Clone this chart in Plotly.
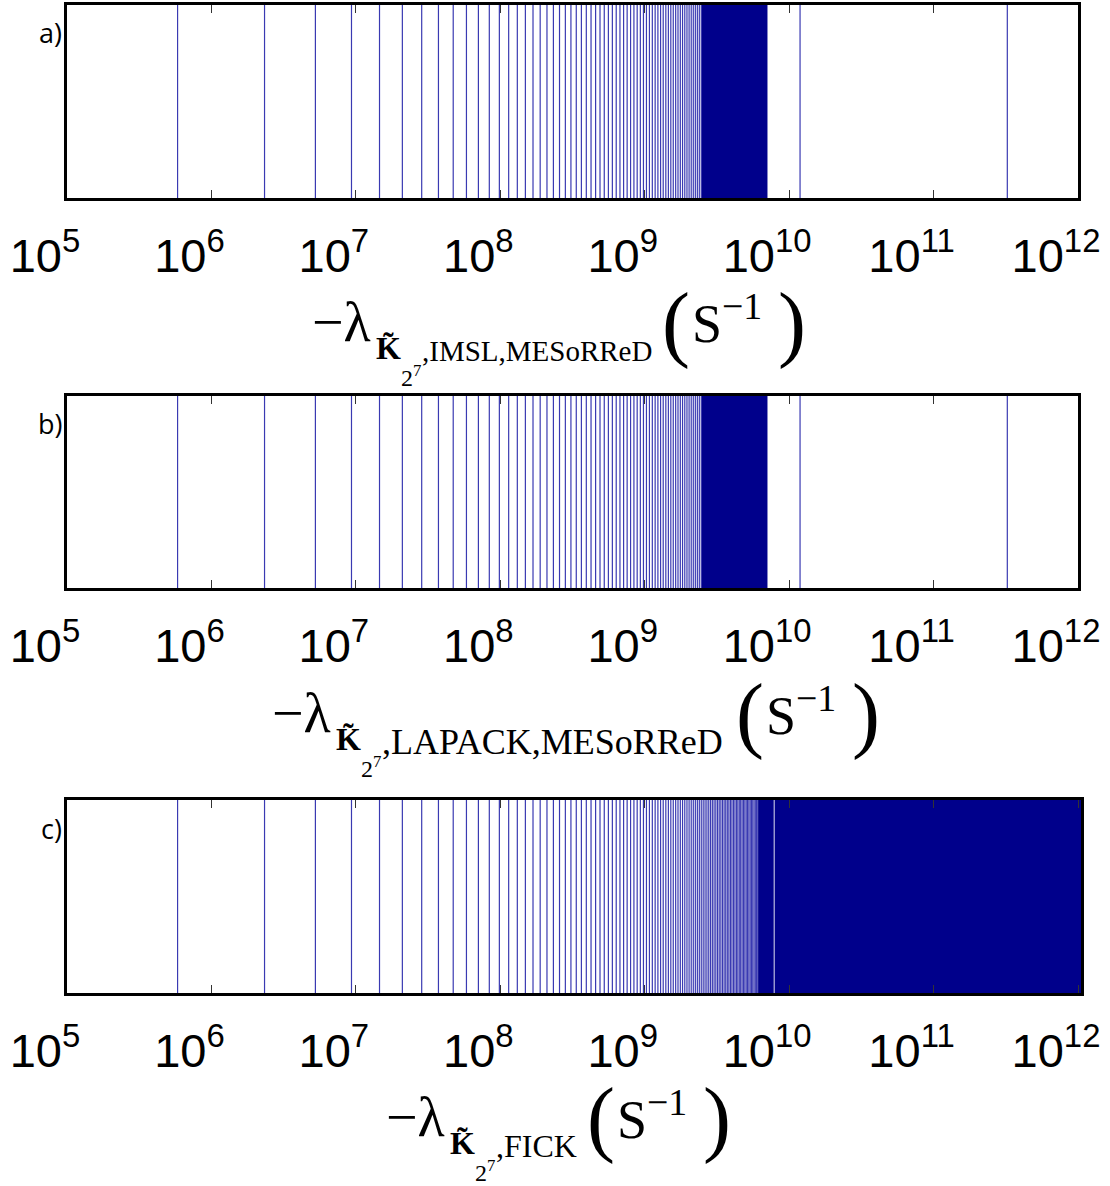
import plotly.graph_objects as go

# ---- data (eigenvalue magnitudes, s^-1) ----
eig_common = [
    5.830e5, 2.332e6, 5.247e6, 9.328e6, 1.458e7, 2.099e7, 2.857e7, 3.731e7, 4.722e7, 5.830e7,
    7.054e7, 8.395e7, 9.853e7, 1.143e8, 1.312e8, 1.492e8, 1.685e8, 1.889e8, 2.105e8, 2.332e8,
    2.571e8, 2.822e8, 3.084e8, 3.358e8, 3.644e8, 3.941e8, 4.250e8, 4.571e8, 4.903e8, 5.247e8,
    5.603e8, 5.970e8, 6.349e8, 6.739e8, 7.142e8, 7.556e8, 7.981e8, 8.419e8, 8.867e8, 9.328e8,
    9.800e8, 1.028e9, 1.078e9, 1.129e9, 1.181e9, 1.234e9, 1.288e9, 1.343e9, 1.400e9, 1.458e9,
    1.516e9, 1.576e9, 1.638e9, 1.700e9, 1.764e9, 1.828e9, 1.894e9, 1.961e9, 2.029e9, 2.099e9,
    2.169e9, 2.241e9, 2.314e9, 2.388e9, 2.463e9,
]
fick_extra = [
    2.540e9, 2.617e9, 2.696e9, 2.776e9, 2.857e9, 2.939e9, 3.022e9, 3.107e9, 3.193e9, 3.279e9,
    3.367e9, 3.457e9, 3.547e9, 3.639e9, 3.731e9, 3.825e9, 3.920e9, 4.016e9, 4.114e9, 4.212e9,
    4.312e9, 4.413e9, 4.515e9, 4.618e9, 4.722e9, 4.828e9, 4.935e9, 5.042e9, 5.151e9, 5.262e9,
    5.373e9, 5.485e9, 5.599e9, 5.714e9, 5.830e9, 5.947e9, 6.066e9,
]
imsl_outliers = [1.19e10, 3.24e11]
lapack_outliers = [1.19e10, 3.24e11]

eig_imsl = eig_common + imsl_outliers
eig_lapack = eig_common + lapack_outliers
eig_fick = eig_common + fick_extra

# dense clusters (too many eigenvalues to resolve): [low, high]
imsl_clusters = [[2.48e9, 7.08e9]]
lapack_clusters = [[2.48e9, 7.08e9]]
fick_clusters = [[6.10e9, 7.82e9], [7.93e9, 1.06e12]]

tick_vals = [1e5, 1e6, 1e7, 1e8, 1e9, 1e10, 1e11, 1e12]
tick_text = ["10<sup>5</sup>", "10<sup>6</sup>", "10<sup>7</sup>", "10<sup>8</sup>",
             "10<sup>9</sup>", "10<sup>10</sup>", "10<sup>11</sup>", "10<sup>12</sup>"]
panel_tags = ["a)", "b)", "c)"]
methods = [",IMSL,MESoRReD", ",LAPACK,MESoRReD", ",FICK"]

# ---- figure ----
W, H = 1110, 1186
NAVY = "#00008B"
LINE = "#3A3AB2"

fig = go.Figure()

panels = [
    dict(eig=eig_imsl, clusters=imsl_clusters, xax="x", yax="y"),
    dict(eig=eig_lapack, clusters=lapack_clusters, xax="x2", yax="y2"),
    dict(eig=eig_fick, clusters=fick_clusters, xax="x3", yax="y3"),
]

for p in panels:
    xs, ys = [], []
    for v in p["eig"]:
        xs += [v, v, None]
        ys += [0, 1, None]
    fig.add_trace(go.Scatter(x=xs, y=ys, mode="lines",
                             line=dict(color=LINE, width=1.2),
                             xaxis=p["xax"], yaxis=p["yax"],
                             showlegend=False, hoverinfo="skip"))
    for lo, hi in p["clusters"]:
        fig.add_trace(go.Scatter(x=[lo, hi, hi, lo, lo], y=[0, 0, 1, 1, 0],
                                 mode="lines", fill="toself", fillcolor=NAVY,
                                 line=dict(width=0, color=NAVY),
                                 xaxis=p["xax"], yaxis=p["yax"],
                                 showlegend=False, hoverinfo="skip"))

def px_x(px):
    return px / W

def px_y(py):
    return 1 - py / H

# panel pixel boxes: (left, right, top, bottom)
boxes = [(67, 1078, 5, 198), (67, 1078, 396, 588), (67, 1081, 800, 993)]
ranges = [[5, 12], [5, 12], [5, 12 + 3 / 144.4]]

axis_common = dict(
    type="log", showgrid=False, zeroline=False, automargin=False,
    showline=True, linecolor="black", linewidth=2.5, mirror="ticks",
    ticks="inside", ticklen=8, tickwidth=1, tickcolor="#333",
    tickvals=tick_vals, ticktext=tick_text,
    tickfont=dict(family="Liberation Sans", size=47, color="black"),
    ticklabelshift=-22, ticklabelstandoff=15,
)
yaxis_common = dict(range=[0, 1], showgrid=False, zeroline=False, automargin=False,
                    showticklabels=False, ticks="",
                    showline=True, linecolor="black", linewidth=2.5, mirror=True)

layout = dict(width=W, height=H,
              margin=dict(l=0, r=0, t=0, b=0, autoexpand=False),
              paper_bgcolor="white", plot_bgcolor="white", showlegend=False)

names = [("xaxis", "yaxis", "y", "x"), ("xaxis2", "yaxis2", "y2", "x2"), ("xaxis3", "yaxis3", "y3", "x3")]
for (xa, ya, yref, xref), (l, r, t, b), rg in zip(names, boxes, ranges):
    layout[xa] = dict(axis_common, domain=[px_x(l), px_x(r)], range=rg, anchor=yref)
    layout[ya] = dict(yaxis_common, domain=[px_y(b), px_y(t)], anchor=xref)

fig.update_layout(**layout)

# ---- axis titles (built from pieces to mimic TeX layout) ----
SERIF = "Liberation Serif"
sub_sizes = [29, 36, 32]
# em widths of the subscript method strings in Times-like metrics
em_width = [7.945, 9.556, 2.528]
lam_left = [310, 270, 384]
dys = [0, 391, 795]

def ann(text, x, y, size, family=SERIF):
    fig.add_annotation(text=text, x=px_x(x), y=px_y(y), xref="paper", yref="paper",
                       xanchor="left", yanchor="middle", showarrow=False,
                       font=dict(family=family, size=size, color="black"))

for m, lam, em, dy, sub in zip(methods, lam_left, em_width, dys, sub_sizes):
    k_left = lam + 64
    txt_left = k_left + 46
    txt_end = txt_left + em * sub
    lp = txt_end + 10
    ann("\u2212\u03bb", lam, 322 + dy, 56)
    ann("<b>K\u0303</b>", k_left, 348 + dy, 32)
    ann("2<sup>7</sup>", k_left + 25, 376 + dy, 24)
    ann(m, txt_left, 351 + dy, sub)
    ann("(", lp, 323 + dy, 84)
    ann("S<sup>\u22121</sup>", lp + 30, 320 + dy, 54)
    ann(")", lp + 116, 323 + dy, 84)

# panel tags
for tag, (l, r, t, b) in zip(panel_tags, boxes):
    fig.add_annotation(text=tag, x=px_x(64), y=px_y(t + 28), xref="paper", yref="paper",
                       xanchor="right", yanchor="middle", showarrow=False,
                       font=dict(family="Open Sans", size=27, color="black"))

fig.write_html("out.html")
